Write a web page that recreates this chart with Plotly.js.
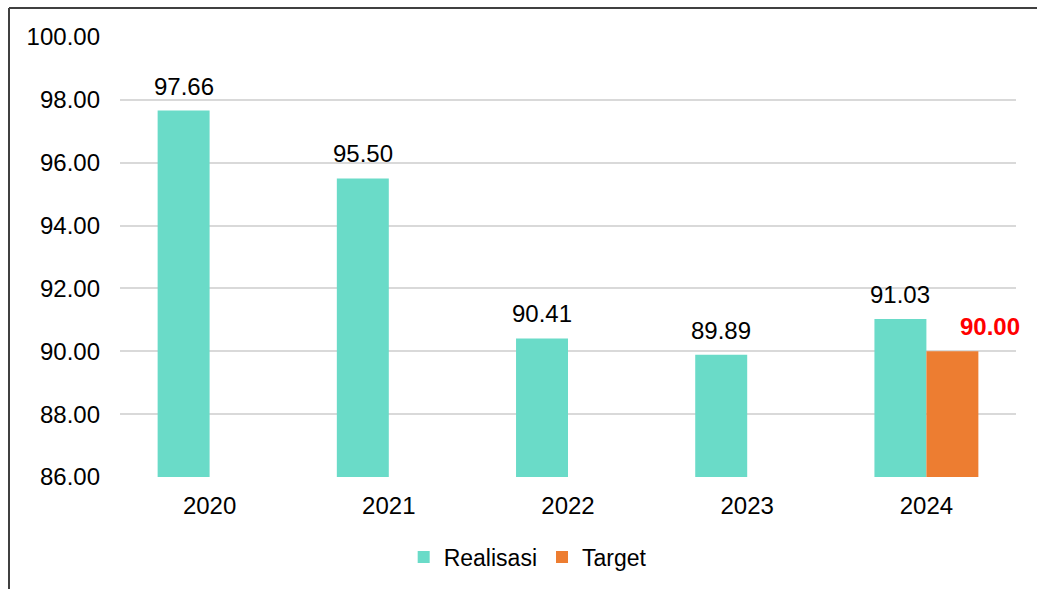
<!DOCTYPE html>
<html>
<head>
<meta charset="utf-8">
<script src="https://cdn.plot.ly/plotly-3.0.1.min.js"></script>
<style>
html,body{margin:0;padding:0;background:#fff;}
#chart{width:1037px;height:589px;}
</style>
</head>
<body>
<div id="chart"></div>
<script>
const years = ["2020", "2021", "2022", "2023", "2024"];
const realisasi = [97.66, 95.50, 90.41, 89.89, 91.03];
const target = [null, null, null, null, 90.00];
const yTicks = [86, 88, 90, 92, 94, 96, 98, 100];

const FONT = "Liberation Sans, Arial, sans-serif";
const W = 1037, H = 589;
const L = 120, R = 21, T = 37, B = 112;
const pw = W - L - R, ph = H - T - B;

const traces = [
  {
    type: "bar", name: "Realisasi", x: years, y: realisasi,
    marker: {color: "#6ADBC8"},
    hoverinfo: "x+y"
  },
  {
    type: "bar", name: "Target", x: years, y: target,
    marker: {color: "#ED7D31"},
    hoverinfo: "x+y"
  }
];

const annotations = [];
realisasi.forEach((v, i) => {
  if (v == null) return;
  annotations.push({
    x: i, y: v, xref: "x", yref: "y",
    text: v.toFixed(2), showarrow: false,
    xshift: -26, yshift: 9, yanchor: "bottom",
    font: {family: FONT, size: 24, color: "#000"}
  });
});
target.forEach((v, i) => {
  if (v == null) return;
  annotations.push({
    x: i, y: v, xref: "x", yref: "y",
    text: "<b>" + v.toFixed(2) + "</b>", showarrow: false,
    xshift: 64, yshift: 9, yanchor: "bottom",
    font: {family: FONT, size: 24, color: "#FF0000"}
  });
});

const px2x = p => (p - L) / pw;
const px2y = p => (H - B - p) / ph;

const layout = {
  width: W, height: H,
  margin: {l: L, r: R, t: T, b: B, pad: 0, autoexpand: false},
  paper_bgcolor: "#fff", plot_bgcolor: "#fff",
  barmode: "group",
  bargap: 0.42, bargroupgap: 0,
  font: {family: FONT, size: 24, color: "#000"},
  xaxis: {
    type: "category",
    range: [-0.5, 4.5], autorange: false,
    automargin: false,
    showgrid: false, zeroline: false,
    showline: false, ticks: "",
    ticklabelstandoff: 12,
    tickfont: {family: FONT, size: 24, color: "#000"}
  },
  yaxis: {
    range: [86, 100], autorange: false,
    automargin: false,
    tickvals: yTicks,
    tickformat: ".2f",
    showgrid: true, gridcolor: "#D9D9D9", gridwidth: 2,
    zeroline: false, showline: false, ticks: "",
    ticklabelstandoff: 19,
    tickfont: {family: FONT, size: 24, color: "#000"}
  },
  showlegend: true,
  legend: {
    orientation: "h", x: 0.455, xanchor: "center",
    y: px2y(557), yanchor: "middle",
    font: {family: FONT, size: 23, color: "#000"},
    itemwidth: 30, itemsizing: "constant",
    traceorder: "normal", tracegroupgap: 0
  },
  annotations: annotations,
  shapes: [
    {type: "line", xref: "paper", yref: "paper",
     x0: px2x(9), x1: px2x(1040), y0: px2y(8), y1: px2y(8),
     line: {color: "#404040", width: 2}},
    {type: "line", xref: "paper", yref: "paper",
     x0: px2x(9), x1: px2x(9), y0: px2y(8), y1: px2y(595),
     line: {color: "#404040", width: 2}}
  ]
};

Plotly.newPlot("chart", traces, layout, {displayModeBar: false, staticPlot: true});
</script>
</body>
</html>
